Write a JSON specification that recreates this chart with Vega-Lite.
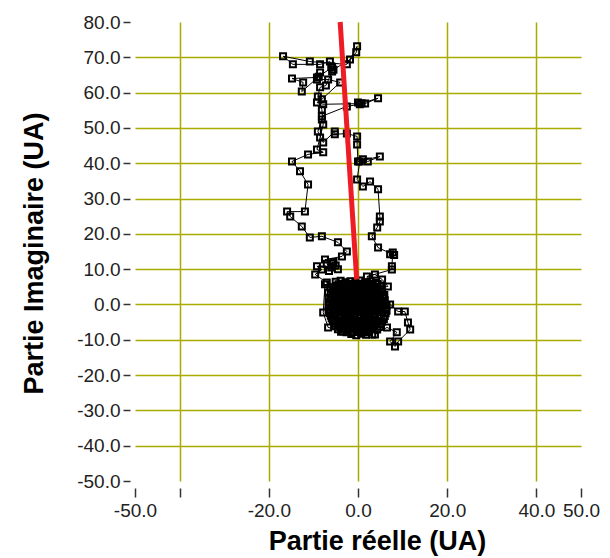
{
  "$schema": "https://vega.github.io/schema/vega-lite/v6.json",
  "width": 446,
  "height": 459,
  "autosize": "none",
  "padding": {"left": 135, "top": 22, "right": 29, "bottom": 77},
  "background": "white",
  "config": {"view": {"stroke": null}},
  "datasets": {
    "walk": [
      {"re":-5.0,"im":6.4},{"re":-3.9,"im":6.7},{"re":-2.8,"im":6.3},{"re":-1.7,"im":6.6},{"re":-0.6,"im":6.4},{"re":0.5,"im":6.8},{"re":1.6,"im":6.3},{"re":2.8,"im":6.6},{"re":4.0,"im":6.2},
      {"re":5.0,"im":5.1},{"re":3.9,"im":4.8},{"re":2.8,"im":5.2},{"re":1.7,"im":4.9},{"re":0.6,"im":5.0},{"re":-0.5,"im":5.3},{"re":-1.6,"im":4.8},{"re":-2.7,"im":5.1},{"re":-3.8,"im":4.9},{"re":-4.9,"im":5.2},{"re":-6.2,"im":4.9},
      {"re":-6.7,"im":3.4},{"re":-5.6,"im":3.7},{"re":-4.5,"im":3.3},{"re":-3.4,"im":3.6},{"re":-2.3,"im":3.4},{"re":-1.2,"im":3.7},{"re":-0.1,"im":3.3},{"re":1.0,"im":3.6},{"re":2.1,"im":3.4},{"re":3.2,"im":3.7},{"re":4.3,"im":3.3},{"re":5.4,"im":3.5},
      {"re":5.6,"im":2.1},{"re":4.5,"im":1.8},{"re":3.4,"im":2.2},{"re":2.3,"im":1.9},{"re":1.2,"im":2.1},{"re":0.1,"im":1.8},{"re":-1.0,"im":2.2},{"re":-2.1,"im":1.9},{"re":-3.2,"im":2.1},{"re":-4.3,"im":1.8},{"re":-5.4,"im":2.2},{"re":-6.6,"im":1.9},
      {"re":-6.5,"im":0.6},{"re":-5.4,"im":0.3},{"re":-4.3,"im":0.7},{"re":-3.2,"im":0.4},{"re":-2.1,"im":0.6},{"re":-1.0,"im":0.3},{"re":0.1,"im":0.7},{"re":1.2,"im":0.4},{"re":2.3,"im":0.6},{"re":3.4,"im":0.3},{"re":4.5,"im":0.7},{"re":5.9,"im":0.4},
      {"re":6.3,"im":-1.1},{"re":5.2,"im":-0.8},{"re":4.1,"im":-1.2},{"re":3.0,"im":-0.9},{"re":1.9,"im":-1.1},{"re":0.8,"im":-0.8},{"re":-0.3,"im":-1.2},{"re":-1.4,"im":-0.9},{"re":-2.5,"im":-1.1},{"re":-3.6,"im":-0.8},{"re":-4.7,"im":-1.2},{"re":-6.2,"im":-0.9},
      {"re":-6.3,"im":-2.4},{"re":-5.2,"im":-2.7},{"re":-4.1,"im":-2.3},{"re":-3.0,"im":-2.6},{"re":-1.9,"im":-2.4},{"re":-0.8,"im":-2.7},{"re":0.3,"im":-2.3},{"re":1.4,"im":-2.6},{"re":2.5,"im":-2.4},{"re":3.6,"im":-2.7},{"re":4.7,"im":-2.3},{"re":6.2,"im":-2.5},
      {"re":5.8,"im":-4.1},{"re":4.7,"im":-3.8},{"re":3.6,"im":-4.2},{"re":2.5,"im":-3.9},{"re":1.4,"im":-4.1},{"re":0.3,"im":-3.8},{"re":-0.8,"im":-4.2},{"re":-1.9,"im":-3.9},{"re":-3.0,"im":-4.1},{"re":-4.1,"im":-3.8},{"re":-5.0,"im":-4.2},{"re":-5.9,"im":-4.0},
      {"re":-5.2,"im":-5.4},{"re":-4.1,"im":-5.7},{"re":-3.0,"im":-5.3},{"re":-1.9,"im":-5.6},{"re":-0.8,"im":-5.4},{"re":0.3,"im":-5.7},{"re":1.4,"im":-5.3},{"re":2.5,"im":-5.6},{"re":3.6,"im":-5.4},{"re":5.1,"im":-5.5},
      {"re":4.3,"im":-7.1},{"re":3.2,"im":-6.8},{"re":2.1,"im":-7.2},{"re":1.0,"im":-6.9},{"re":-0.1,"im":-7.1},{"re":-1.2,"im":-6.8},{"re":-2.3,"im":-7.2},{"re":-3.4,"im":-6.9},{"re":-4.5,"im":-7.0},
      {"re":-1.5,"im":-8.4},{"re":-0.4,"im":-8.7},{"re":0.7,"im":-8.3},{"re":1.8,"im":-8.6},{"re":3.2,"im":-8.5},
      {"re":2.5,"im":-7.7},{"re":1.2,"im":-7.9},{"re":0.1,"im":-7.6},{"re":-1.0,"im":-7.8},{"re":-2.6,"im":-7.9},{"re":-3.8,"im":-7.7},
      {"re":-5.0,"im":-6.2},{"re":-4.0,"im":-6.4},{"re":-2.9,"im":-6.1},{"re":-1.8,"im":-6.3},{"re":-0.7,"im":-6.0},{"re":0.4,"im":-6.3},{"re":1.5,"im":-6.1},{"re":2.6,"im":-6.4},{"re":3.7,"im":-6.1},{"re":4.8,"im":-6.3},
      {"re":5.4,"im":-4.8},{"re":4.2,"im":-4.9},{"re":3.1,"im":-4.6},{"re":2.0,"im":-4.9},{"re":0.9,"im":-4.7},{"re":-0.2,"im":-5.0},{"re":-1.3,"im":-4.7},{"re":-2.4,"im":-4.9},{"re":-3.5,"im":-4.6},{"re":-4.6,"im":-4.9},{"re":-5.6,"im":-4.7},
      {"re":-6.1,"im":-3.2},{"re":-5.0,"im":-3.3},{"re":-3.9,"im":-3.1},{"re":-2.8,"im":-3.4},{"re":-1.7,"im":-3.1},{"re":-0.6,"im":-3.3},{"re":0.5,"im":-3.0},{"re":1.6,"im":-3.3},{"re":2.7,"im":-3.1},{"re":3.8,"im":-3.4},{"re":4.9,"im":-3.1},{"re":6.0,"im":-3.3},
      {"re":6.4,"im":-1.8},{"re":5.3,"im":-1.9},{"re":4.2,"im":-1.7},{"re":3.1,"im":-1.9},{"re":2.0,"im":-1.6},{"re":0.9,"im":-1.9},{"re":-0.2,"im":-1.7},{"re":-1.3,"im":-2.0},{"re":-2.4,"im":-1.7},{"re":-3.5,"im":-1.9},{"re":-4.6,"im":-1.6},{"re":-5.7,"im":-1.9},{"re":-6.6,"im":-1.7},
      {"re":-6.6,"im":-0.2},{"re":-5.7,"im":0.0},{"re":-4.6,"im":-0.3},{"re":-3.5,"im":-0.1},{"re":-2.4,"im":-0.4},{"re":-1.3,"im":-0.1},{"re":-0.2,"im":-0.3},{"re":0.9,"im":0.0},{"re":2.0,"im":-0.3},{"re":3.1,"im":-0.1},{"re":4.2,"im":-0.4},{"re":5.3,"im":-0.1},{"re":6.4,"im":-0.3},
      {"re":6.0,"im":1.2},{"re":4.9,"im":1.3},{"re":3.8,"im":1.1},{"re":2.7,"im":1.4},{"re":1.6,"im":1.1},{"re":0.5,"im":1.3},{"re":-0.6,"im":1.0},{"re":-1.7,"im":1.3},{"re":-2.8,"im":1.1},{"re":-3.9,"im":1.4},{"re":-5.0,"im":1.1},{"re":-6.1,"im":1.3},
      {"re":-6.1,"im":2.9},{"re":-5.0,"im":2.6},{"re":-3.9,"im":2.8},{"re":-2.8,"im":2.7},{"re":-1.7,"im":2.9},{"re":-0.6,"im":2.6},{"re":0.5,"im":2.9},{"re":1.6,"im":2.7},{"re":2.7,"im":2.9},{"re":3.8,"im":2.6},{"re":4.9,"im":2.9},{"re":5.9,"im":2.7},
      {"re":5.2,"im":4.3},{"re":4.4,"im":4.1},{"re":3.3,"im":4.4},{"re":2.2,"im":4.1},{"re":1.1,"im":4.3},{"re":0.0,"im":4.0},{"re":-1.1,"im":4.3},{"re":-2.2,"im":4.1},{"re":-3.3,"im":4.4},{"re":-4.4,"im":4.1},{"re":-5.6,"im":4.2},
      {"re":-4.4,"im":5.7},{"re":-3.3,"im":5.9},{"re":-2.2,"im":5.6},{"re":-1.1,"im":5.8},{"re":0.0,"im":5.9},{"re":1.1,"im":5.6},{"re":2.2,"im":5.9},{"re":3.3,"im":5.7},{"re":4.4,"im":5.8},
      {"re":3.8,"im":-8.5},{"re":6.5,"im":-6.5},{"re":8.7,"im":-7.9},{"re":7.2,"im":-10.5},{"re":8.3,"im":-11.9},{"re":9.0,"im":-10.5},{"re":11.7,"im":-7.1},{"re":11.2,"im":-5.1},{"re":10.5,"im":-2.0},{"re":9.0,"im":-2.0},{"re":7.2,"im":0.0},{"re":5.0,"im":-1.5},
      {"re":2.2,"im":-7.9},{"re":-3.4,"im":-7.6},{"re":-6.7,"im":-6.5},{"re":-7.8,"im":-2.3},{"re":-7.4,"im":5.7},
      {"re":2.0,"im":4.2},{"re":6.7,"im":5.1},{"re":5.4,"im":7.1},{"re":3.8,"im":8.5},{"re":2.0,"im":7.9},{"re":7.6,"im":9.9},{"re":7.6,"im":10.8},{"re":7.8,"im":14.7},{"re":7.2,"im":14.2},{"re":8.1,"im":14.0},{"re":4.5,"im":16.1},{"re":3.1,"im":19.3},{"re":4.3,"im":21.8},{"re":4.9,"im":23.5},{"re":4.9,"im":24.9},{"re":4.5,"im":32.6},{"re":2.7,"im":34.8},{"re":1.1,"im":33.4},{"re":-0.2,"im":35.4},{"re":0.4,"im":40.5},{"re":1.1,"im":41.1},{"re":2.2,"im":40.5},{"re":4.9,"im":41.9},{"re":0.0,"im":40.5},{"re":-0.2,"im":45.3},{"re":-0.2,"im":47.6},{"re":-2.5,"im":48.4},{"re":-5.2,"im":48.2},{"re":-5.2,"im":49.0},{"re":-7.8,"im":45.9},{"re":-9.0,"im":49.0},{"re":-8.1,"im":52.4},{"re":-8.1,"im":53.3},{"re":-2.5,"im":56.1},{"re":0.4,"im":56.7},{"re":0.0,"im":57.2},{"re":0.8,"im":57.0},{"re":4.5,"im":58.4},{"re":1.6,"im":56.9},{"re":-7.8,"im":56.7},{"re":-9.2,"im":57.2},{"re":-8.1,"im":58.1},{"re":-4.0,"im":62.9},{"re":-6.7,"im":63.7},{"re":-9.2,"im":63.7},{"re":-8.5,"im":65.7},{"re":-8.8,"im":64.5},{"re":-12.6,"im":60.3},{"re":-12.3,"im":62.9},{"re":-14.8,"im":64.0},{"re":-9.2,"im":64.3},{"re":-5.8,"im":67.1},{"re":-6.0,"im":67.5},{"re":-6.3,"im":68.8},{"re":-8.5,"im":68.0},{"re":-14.6,"im":68.0},{"re":-16.8,"im":70.3},{"re":-10.8,"im":68.8},{"re":-2.5,"im":68.0},{"re":-0.4,"im":71.4},{"re":-0.2,"im":73.1},{"re":-1.8,"im":69.4},{"re":-5.5,"im":66.5},{"re":-5.8,"im":66.0},{"re":-7.2,"im":62.0},{"re":-8.5,"im":61.5},{"re":-9.0,"im":58.9},{"re":-8.1,"im":55.2},{"re":-7.8,"im":51.0},{"re":-8.5,"im":47.3},{"re":-9.2,"im":43.9},{"re":-7.8,"im":43.1},{"re":-11.2,"im":42.5},{"re":-14.8,"im":40.5},{"re":-13.0,"im":37.7},{"re":-11.2,"im":34.0},{"re":-11.9,"im":26.3},{"re":-15.9,"im":26.3},{"re":-15.2,"im":24.9},{"re":-12.6,"im":22.1},{"re":-10.8,"im":19.0},{"re":-8.1,"im":19.3},{"re":-4.5,"im":17.6},{"re":-2.5,"im":15.0},{"re":-3.6,"im":13.6},{"re":-7.4,"im":12.7},{"re":-5.8,"im":11.6},{"re":-7.0,"im":11.5},{"re":-6.0,"im":10.5},{"re":-5.0,"im":11.0},{"re":-6.5,"im":9.5},{"re":-5.5,"im":12.0},{"re":-4.5,"im":10.0},{"re":-9.2,"im":10.8},{"re":-8.1,"im":9.9},{"re":-9.6,"im":8.5},{"re":-7.0,"im":6.2},{"re":-5.0,"im":5.0}
    ],
    "fit": [
      {"re":-0.3,"im":7.1},
      {"re":-4.0,"im":80}
    ]
  },
  "layer": [
    {
      "data": {"name": "walk"},
      "mark": {"type": "line", "color": "black", "strokeWidth": 1},
      "encoding": {
        "x": {
          "field": "re", "type": "quantitative",
          "scale": {"domain": [-50, 50], "nice": false, "zero": false},
          "axis": {
            "values": [-50, -40, -20, 0, 20, 40, 50],
            "tickCount": 20,
            "title": "Partie réelle (UA)",
            "labelExpr": "datum.value == -40 ? '' : (datum.value < 0 ? '-' : '') + format(abs(datum.value), '.1f')",
            "domain": false,
            "grid": true,
            "gridColor": "#aaaa00",
            "gridWidth": 1.5,
            "gridOpacity": {"condition": {"test": "abs(datum.value) == 50", "value": 0}, "value": 1},
            "ticks": true,
            "tickColor": "#333333",
            "tickSize": 9,
            "tickWidth": 1.5,
            "offset": 7,
            "labelFont": "Liberation Sans",
            "labelFontSize": 19,
            "labelColor": "#222222",
            "labelPadding": 4,
            "labelOverlap": false,
            "labelFlush": false,
            "labelBound": false,
            "titleFont": "Liberation Sans",
            "titleFontSize": 27,
            "titleFontWeight": "bold",
            "titleColor": "black",
            "titleX": 242,
            "titleY": 61,
            "titleBaseline": "alphabetic",
            "titleAlign": "center"
          }
        },
        "y": {
          "field": "im", "type": "quantitative",
          "scale": {"domain": [-50, 80], "nice": false, "zero": false},
          "axis": {
            "values": [-50, -40, -30, -20, -10, 0, 10, 20, 30, 40, 50, 60, 70, 80],
            "tickCount": 20,
            "title": "Partie Imaginaire (UA)",
            "labelExpr": "(datum.value < 0 ? '-' : '') + format(abs(datum.value), '.1f')",
            "domain": false,
            "grid": true,
            "gridColor": "#aaaa00",
            "gridWidth": 1.5,
            "gridOpacity": {"condition": {"test": "datum.value == -50 || datum.value == 80", "value": 0}, "value": 1},
            "ticks": true,
            "tickColor": "#333333",
            "tickSize": 7,
            "tickWidth": 1.5,
            "offset": 5,
            "labelFont": "Liberation Sans",
            "labelFontSize": 19,
            "labelColor": "#222222",
            "labelPadding": 3,
            "labelOverlap": false,
            "labelFlush": false,
            "labelBound": false,
            "titleFont": "Liberation Sans",
            "titleFontSize": 27,
            "titleFontWeight": "bold",
            "titleColor": "black",
            "titleAngle": -90,
            "titleX": -88,
            "titleY": 231,
            "titleBaseline": "alphabetic",
            "titleAlign": "center"
          }
        },
        "order": {"value": null}
      }
    },
    {
      "data": {"name": "walk"},
      "mark": {"type": "point", "shape": "square", "filled": false, "color": "black", "size": 36, "strokeWidth": 2, "opacity": 1},
      "encoding": {
        "x": {"field": "re", "type": "quantitative"},
        "y": {"field": "im", "type": "quantitative"}
      }
    },
    {
      "data": {"name": "fit"},
      "mark": {"type": "line", "color": "#ee1c24", "strokeWidth": 5},
      "encoding": {
        "x": {"field": "re", "type": "quantitative"},
        "y": {"field": "im", "type": "quantitative"},
        "order": {"value": null}
      }
    }
  ]
}
